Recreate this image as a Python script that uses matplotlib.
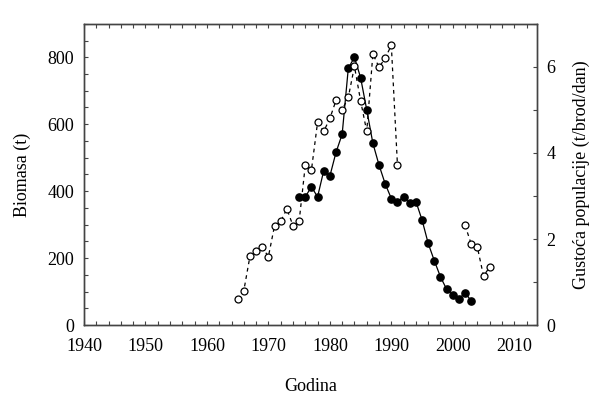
import matplotlib
matplotlib.use("Agg")
import matplotlib.pyplot as plt
import numpy as np
from matplotlib.ticker import MultipleLocator

plt.rcParams.update({"font.family": ["Liberation Serif", "DejaVu Serif"]})

# biomass (left axis), filled circles
years_bio = [1975, 1976, 1977, 1978, 1979, 1980, 1981, 1982, 1983, 1984,
             1985, 1986, 1987, 1988, 1989, 1990, 1991, 1992, 1993, 1994,
             1995, 1996, 1997, 1998, 1999, 2000, 2001, 2002, 2003]
biomass = [383, 383, 413, 383, 461, 445, 516, 570, 767, 800,
           739, 643, 543, 478, 422, 378, 369, 383, 364, 369,
           314, 244, 192, 144, 107, 90, 78, 97, 72]

# population density (right axis), open circles; gap 1992-2001
years_dens = [1965, 1966, 1967, 1968, 1969, 1970, 1971, 1972, 1973, 1974,
              1975, 1976, 1977, 1978, 1979, 1980, 1981, 1982, 1983, 1984,
              1985, 1986, 1987, 1988, 1989, 1990, 1991,
              2002, 2003, 2004, 2005, 2006]
density = [0.60, 0.80, 1.60, 1.72, 1.81, 1.59, 2.31, 2.41, 2.70, 2.31,
           2.41, 3.71, 3.60, 4.71, 4.50, 4.80, 5.22, 5.00, 5.29, 6.01,
           5.21, 4.50, 6.30, 5.99, 6.20, 6.50, 3.71,
           2.32, 1.88, 1.81, 1.14, 1.35]

fs = 13

fig = plt.figure(figsize=(6, 3.96), dpi=100)
ax1 = fig.add_axes([0.14, 0.179, 0.755, 0.761])
ax2 = ax1.twinx()

ax1.plot(years_bio, biomass, color="black", lw=0.9, marker="o", ms=5.2,
         mfc="black", mec="black", zorder=3)

# break the dashed line across the missing years
yd = np.array(years_dens, dtype=float)
dd = np.array(density, dtype=float)
gap = np.where(np.diff(yd) > 1)[0]
yd_plot = np.insert(yd, gap + 1, np.nan)
dd_plot = np.insert(dd, gap + 1, np.nan)
ax2.plot(yd_plot, dd_plot, color="black", lw=0.9, ls=(0, (3, 3)), marker="o",
         ms=5, mfc="white", mec="black", mew=0.9)

ax1.set_xlim(1940, 2013.7)
ax1.set_ylim(0, 900)
ax2.set_ylim(0, 7)

ax1.set_xticks(range(1940, 2011, 10))
ax1.xaxis.set_minor_locator(MultipleLocator(2))
ax1.set_yticks(range(0, 801, 200))
ax1.yaxis.set_minor_locator(MultipleLocator(50))
ax2.set_yticks(range(0, 7, 2))
ax2.yaxis.set_minor_locator(MultipleLocator(1))

for ax in (ax1, ax2):
    for sp in ax.spines.values():
        sp.set_color("#444444")
        sp.set_linewidth(1.0)
    ax.tick_params(which="both", direction="in", length=3, width=0.8,
                   color="#444444", labelsize=fs, pad=7)
ax1.tick_params(which="both", top=True)
ax1.tick_params(axis="x", which="both", pad=9)

ax1.set_xlabel("Godina", fontsize=fs, labelpad=17)
ax1.set_ylabel("Biomasa (t)", fontsize=fs, labelpad=12)
ax2.set_ylabel("Gustoća populacije (t/brod/dan)", fontsize=fs, labelpad=12)

fig.savefig("out.png", dpi=100)
